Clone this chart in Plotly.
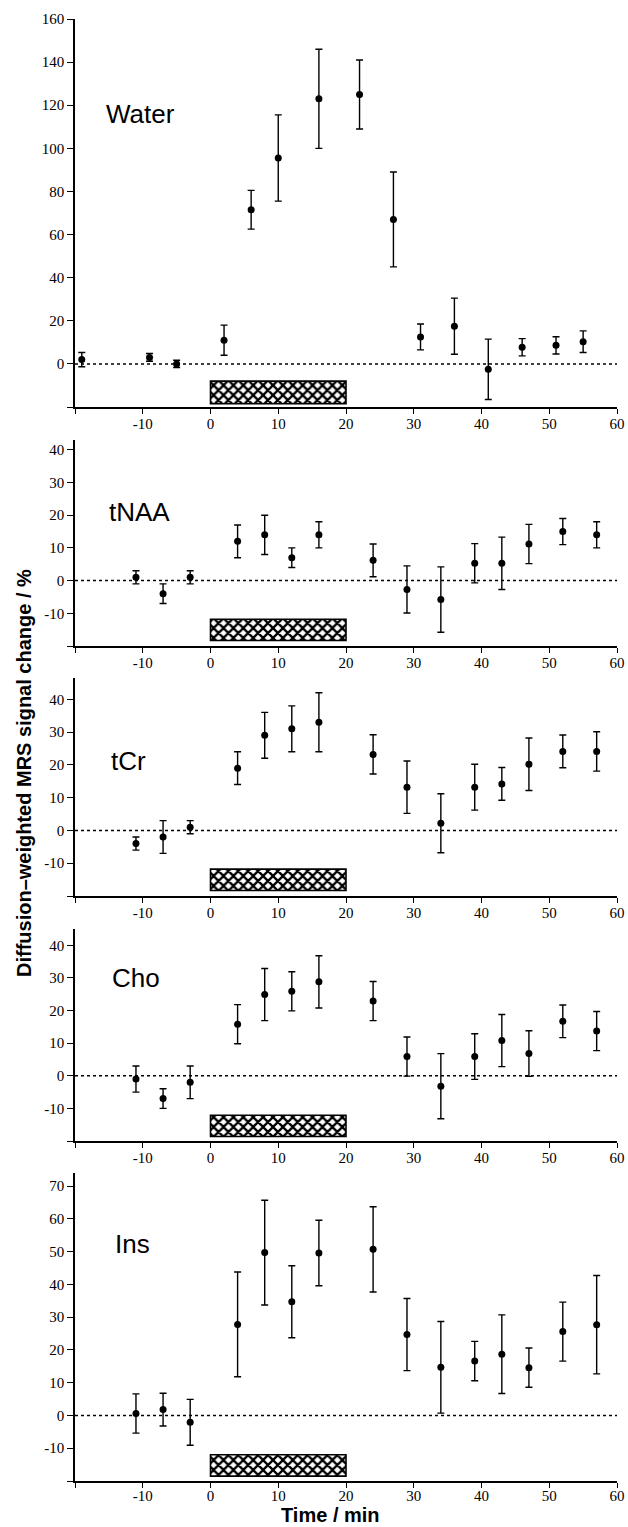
import plotly.graph_objects as go

# ---------------- data ----------------
stimulus_window = [0, 20]  # min

water_time = [-19, -9, -5, 2, 6, 10, 16, 22, 27, 31, 36, 41, 46, 51, 55]
water_mean = [2, 3, 0, 11, 71.5, 95.5, 123, 125, 67, 12.5, 17.5, -2.5, 7.7, 8.6, 10.3]
water_err = [3.3, 1.8, 1.7, 7, 9, 20, 23, 16, 22, 6, 13, 14, 4, 4, 5]

time_pts = [-11, -7, -3, 4, 8, 12, 16, 24, 29, 34, 39, 43, 47, 52, 57]

tnaa_mean = [1, -4, 1, 12, 14, 7, 14, 6.2, -2.7, -5.8, 5.3, 5.3, 11.2, 15, 14]
tnaa_err = [2, 3, 2, 5, 6, 3, 4, 5, 7.2, 10, 6, 8, 6, 4, 4]

tcr_mean = [-4, -2, 1, 19, 29, 31, 33, 23.2, 13.2, 2.2, 13.2, 14.2, 20.2, 24.1, 24.1]
tcr_err = [2, 5, 2, 5, 7, 7, 9, 6, 8, 9, 7, 5, 8, 5, 6]

cho_mean = [-1, -7, -2, 15.8, 24.9, 25.9, 28.8, 22.9, 5.9, -3.2, 5.9, 10.8, 6.8, 16.7, 13.7]
cho_err = [4, 3, 5, 6, 8, 6, 8, 6, 6, 10, 7, 8, 7, 5, 6]

ins_mean = [0.6, 1.8, -2.1, 27.8, 49.7, 34.7, 49.6, 50.7, 24.7, 14.7, 16.6, 18.7, 14.6, 25.6, 27.7]
ins_err = [6, 5, 7, 16, 16, 11, 10, 13, 11, 14, 6, 12, 6, 9, 15]

x_ticks = [-20, -10, 0, 10, 20, 30, 40, 50, 60]

# ---------------- layout config ----------------
W, H = 628, 1527
ML, MR = 75, 11

panels = [
    dict(name="Water", t=water_time, y=water_mean, e=water_err,
         yr=[-20, 160], yt=list(range(-20, 161, 20)), px=(19, 407),
         bar=(-18.5, -8), lab=(-15.7, 116)),
    dict(name="tNAA", t=time_pts, y=tnaa_mean, e=tnaa_err,
         yr=[-20, 43], yt=list(range(-20, 41, 10)), px=(440, 646),
         bar=(-18.3, -11.8), lab=(-15.3, 21)),
    dict(name="tCr", t=time_pts, y=tcr_mean, e=tcr_err,
         yr=[-20, 46.5], yt=list(range(-20, 41, 10)), px=(678, 896),
         bar=(-18.3, -11.8), lab=(-15.0, 21.3)),
    dict(name="Cho", t=time_pts, y=cho_mean, e=cho_err,
         yr=[-20, 45], yt=list(range(-20, 41, 10)), px=(929, 1141),
         bar=(-18.6, -12.1), lab=(-14.8, 30)),
    dict(name="Ins", t=time_pts, y=ins_mean, e=ins_err,
         yr=[-20, 74], yt=list(range(-20, 71, 10)), px=(1173, 1481),
         bar=(-18.5, -12), lab=(-14.4, 52.3)),
]

tick_font = dict(family="Liberation Serif", size=15, color="black")

def lbl(v):
    if v == -20:
        return ""
    return str(v)

fig = go.Figure()
layout = dict(
    template="none",
    width=W, height=H,
    margin=dict(l=ML, r=MR, t=0, b=0),
    paper_bgcolor="white", plot_bgcolor="white",
    showlegend=False,
    font=dict(color="black"),
    shapes=[], annotations=[],
)

n = len(panels)
for i, p in enumerate(panels, start=1):
    xa = "x" if i == 1 else f"x{i}"
    ya = "y" if i == 1 else f"y{i}"
    xk = "xaxis" if i == 1 else f"xaxis{i}"
    yk = "yaxis" if i == 1 else f"yaxis{i}"
    top, bot = p["px"]
    dom = [1 - bot / H, 1 - top / H]

    # stimulus hatched box
    b0, b1 = p["bar"]
    fig.add_trace(go.Bar(
        x=[(stimulus_window[0] + stimulus_window[1]) / 2],
        y=[b1 - b0], base=[b0],
        width=[stimulus_window[1] - stimulus_window[0]],
        marker=dict(color="white",
                    line=dict(color="black", width=1.6),
                    pattern=dict(shape="x", size=7, solidity=0.55,
                                 fgcolor="black", bgcolor="white")),
        xaxis=xa, yaxis=ya, hoverinfo="skip",
    ))

    # data points with error bars
    fig.add_trace(go.Scatter(
        x=p["t"], y=p["y"], mode="markers",
        marker=dict(color="black", size=7),
        error_y=dict(type="data", array=p["e"], visible=True,
                     color="black", thickness=1.4, width=3.5),
        xaxis=xa, yaxis=ya,
    ))

    layout[xk] = dict(
        domain=[0, 1], anchor=ya, range=[-20, 60],
        tickmode="array", tickvals=x_ticks, ticktext=[lbl(v) for v in x_ticks],
        ticks="outside", ticklen=5, tickwidth=1.2, tickcolor="black",
        ticklabelstandoff=(-5 if i == n else -3),
        showline=True, linecolor="black", linewidth=1.5,
        showgrid=False, zeroline=False, tickfont=tick_font,
    )
    layout[yk] = dict(
        domain=dom, anchor=xa, range=p["yr"],
        tickmode="array", tickvals=p["yt"], ticktext=[lbl(v) for v in p["yt"]],
        ticks="outside", ticklen=6, tickwidth=1.2, tickcolor="black",
        showline=True, linecolor="black", linewidth=1.5,
        showgrid=False, zeroline=False, tickfont=tick_font,
    )

    # dotted zero line
    layout["shapes"].append(dict(
        type="line", xref=xa, yref=ya, x0=-20, x1=60, y0=0, y1=0,
        line=dict(color="black", width=1.5, dash="dot"), layer="below",
    ))

    # panel label
    lx, ly = p["lab"]
    layout["annotations"].append(dict(
        text=p["name"], xref=xa, yref=ya, x=lx, y=ly,
        xanchor="left", yanchor="middle", showarrow=False,
        font=dict(family="Liberation Sans", size=26, color="black"),
    ))

# axis titles
layout["annotations"].append(dict(
    text="<b>Diffusion\u2013weighted MRS signal change / %</b>",
    xref="paper", yref="paper", x=(24 - ML) / (W - ML - MR), y=1 - 773 / H,
    xanchor="center", yanchor="middle", textangle=-90, showarrow=False,
    font=dict(family="Liberation Sans", size=20, color="black"),
))
layout["annotations"].append(dict(
    text="<b>Time / min</b>",
    xref="paper", yref="paper", x=(330 - ML) / (W - ML - MR), y=0,
    xanchor="center", yanchor="bottom", yshift=-1, showarrow=False,
    font=dict(family="Liberation Sans", size=20, color="black"),
))

fig.update_layout(**layout)
fig.write_html("out.html")
